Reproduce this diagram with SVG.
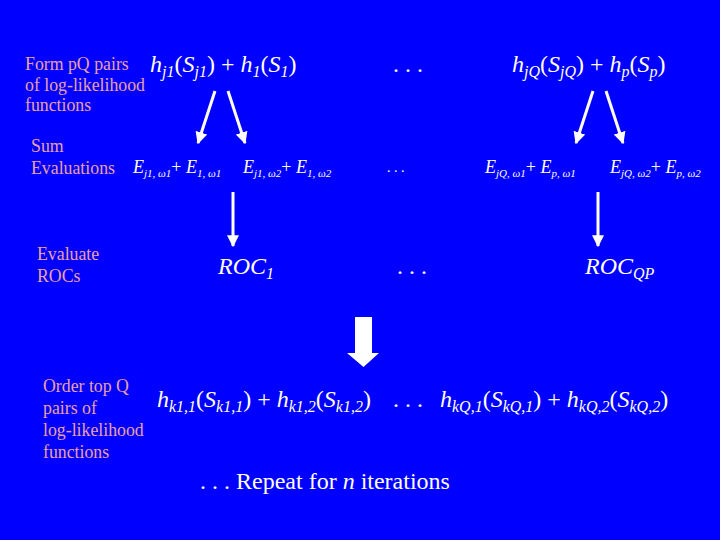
<svg xmlns="http://www.w3.org/2000/svg" width="720" height="540" viewBox="0 0 720 540">
<defs>
<style>
.lbl{font-family:"Liberation Serif","Times New Roman",serif;font-size:17.8px;fill:#E8A0A8}
.m{font-family:"Liberation Serif","Times New Roman",serif;fill:#FFFFFF}
.big{font-size:24px}
.mid{font-size:18px}
.i{font-style:italic}
.sb{font-size:16px;font-style:italic}
.ss{font-size:11px;font-style:italic}
.ln{stroke:#FFFFFF;stroke-width:3;fill:none}
</style>
<marker id="ah" viewBox="0 0 10 10" refX="9" refY="5" markerWidth="4" markerHeight="4" orient="auto" markerUnits="strokeWidth">
<path d="M0,0 L10,5 L0,10 Z" fill="#FFFFFF"/>
</marker>
</defs>
<rect x="0" y="0" width="720" height="540" fill="#0000FF"/>

<g id="labels">
<text class="lbl" x="25" y="70">Form pQ pairs</text>
<text class="lbl" x="25" y="91">of log-likelihood</text>
<text class="lbl" x="25" y="111">functions</text>
<text class="lbl" x="31" y="152">Sum</text>
<text class="lbl" x="31" y="174">Evaluations</text>
<text class="lbl" x="37" y="260">Evaluate</text>
<text class="lbl" x="37" y="282">ROCs</text>
<text class="lbl" x="43" y="392">Order top Q</text>
<text class="lbl" x="43" y="414">pairs of</text>
<text class="lbl" x="43" y="436">log-likelihood</text>
<text class="lbl" x="43" y="458">functions</text>
</g>

<g id="pair1">
<text class="m big" x="150" y="72"><tspan class="i">h</tspan><tspan class="sb" baseline-shift="-5">j1</tspan>(<tspan class="i">S</tspan><tspan class="sb" baseline-shift="-5">j1</tspan>) + <tspan class="i">h</tspan><tspan class="sb" baseline-shift="-5">1</tspan>(<tspan class="i">S</tspan><tspan class="sb" baseline-shift="-5">1</tspan>)</text>
</g>
<g id="dots1"><text class="m big" x="393" y="72">. . .</text></g>
<g id="pairQ">
<text class="m big" x="512" y="72"><tspan class="i">h</tspan><tspan class="sb" baseline-shift="-5">jQ</tspan>(<tspan class="i">S</tspan><tspan class="sb" baseline-shift="-5">jQ</tspan>) + <tspan class="i">h</tspan><tspan class="sb" baseline-shift="-5">p</tspan>(<tspan class="i">S</tspan><tspan class="sb" baseline-shift="-5">p</tspan>)</text>
</g>

<g id="sum1a"><text class="m mid" x="133" y="173"><tspan class="i">E</tspan><tspan class="ss" baseline-shift="-4">j1, ω1</tspan>+ <tspan class="i">E</tspan><tspan class="ss" baseline-shift="-4">1, ω1</tspan></text></g>
<g id="sum1b"><text class="m mid" x="243" y="173"><tspan class="i">E</tspan><tspan class="ss" baseline-shift="-4">j1, ω2</tspan>+ <tspan class="i">E</tspan><tspan class="ss" baseline-shift="-4">1, ω2</tspan></text></g>
<g id="dots2"><text class="m" style="font-size:14px" x="387" y="172">. . .</text></g>
<g id="sumQa"><text class="m mid" x="485" y="173"><tspan class="i">E</tspan><tspan class="ss" baseline-shift="-4">jQ, ω1</tspan>+ <tspan class="i">E</tspan><tspan class="ss" baseline-shift="-4">p, ω1</tspan></text></g>
<g id="sumQb"><text class="m mid" x="610" y="173"><tspan class="i">E</tspan><tspan class="ss" baseline-shift="-4">jQ, ω2</tspan>+ <tspan class="i">E</tspan><tspan class="ss" baseline-shift="-4">p, ω2</tspan></text></g>

<g id="roc1"><text class="m big" x="218" y="274"><tspan class="i">ROC</tspan><tspan class="sb" baseline-shift="-5">1</tspan></text></g>
<g id="dots3"><text class="m big" x="397" y="274">. . .</text></g>
<g id="rocQP"><text class="m big" x="585" y="274"><tspan class="i">ROC</tspan><tspan class="sb" baseline-shift="-5">QP</tspan></text></g>

<g id="top1"><text class="m big" x="157" y="407"><tspan class="i">h</tspan><tspan class="sb" baseline-shift="-5">k1,1</tspan>(<tspan class="i">S</tspan><tspan class="sb" baseline-shift="-5">k1,1</tspan>) + <tspan class="i">h</tspan><tspan class="sb" baseline-shift="-5">k1,2</tspan>(<tspan class="i">S</tspan><tspan class="sb" baseline-shift="-5">k1,2</tspan>)</text></g>
<g id="dots4"><text class="m big" x="393" y="407">. . .</text></g>
<g id="topQ"><text class="m big" x="440" y="407"><tspan class="i">h</tspan><tspan class="sb" baseline-shift="-5">kQ,1</tspan>(<tspan class="i">S</tspan><tspan class="sb" baseline-shift="-5">kQ,1</tspan>) + <tspan class="i">h</tspan><tspan class="sb" baseline-shift="-5">kQ,2</tspan>(<tspan class="i">S</tspan><tspan class="sb" baseline-shift="-5">kQ,2</tspan>)</text></g>

<g id="repeat"><text class="m" style="font-size:24px" x="200" y="489">. . . Repeat for <tspan class="i">n</tspan> iterations</text></g>

<g id="connectors">
<line class="ln" x1="215" y1="91" x2="198" y2="143" marker-end="url(#ah)"/>
<line class="ln" x1="228" y1="91" x2="245" y2="143" marker-end="url(#ah)"/>
<line class="ln" x1="593" y1="91" x2="576" y2="143" marker-end="url(#ah)"/>
<line class="ln" x1="606" y1="91" x2="623" y2="143" marker-end="url(#ah)"/>
<line class="ln" x1="233" y1="192" x2="233" y2="246" marker-end="url(#ah)"/>
<line class="ln" x1="598" y1="192" x2="598" y2="246" marker-end="url(#ah)"/>
<path d="M355,317 L372,317 L372,353 L379,353 L363.5,367 L347,353 L355,353 Z" fill="#FFFFFF"/>
</g>
</svg>
